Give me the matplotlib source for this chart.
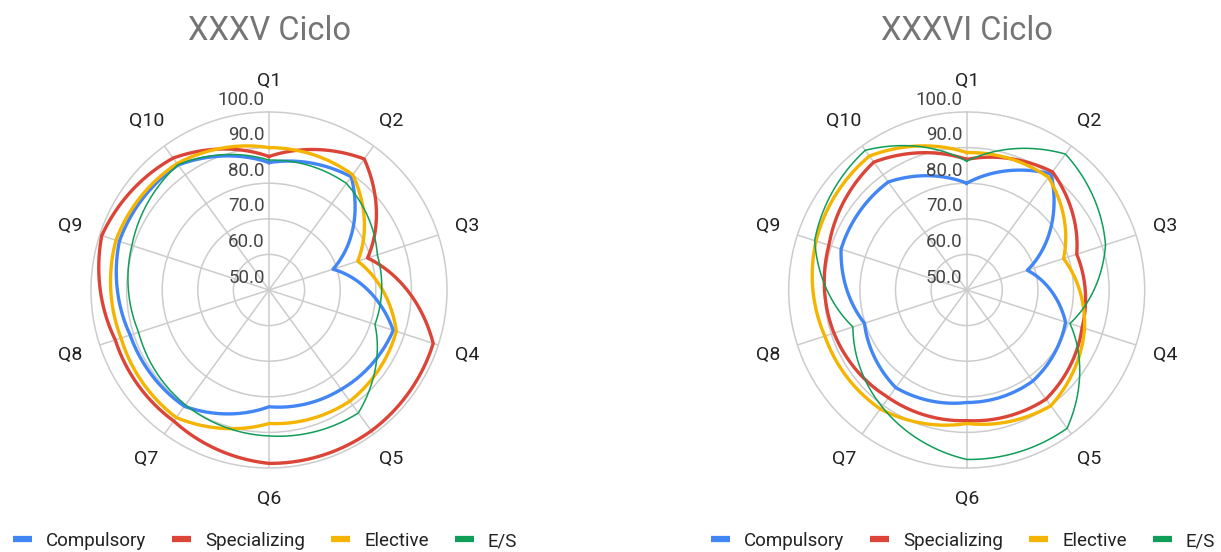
import numpy as np
import matplotlib
matplotlib.use("Agg")
import matplotlib.pyplot as plt
from matplotlib.lines import Line2D

plt.rcParams["font.family"] = ["Roboto", "DejaVu Sans"]

questions = ["Q1", "Q2", "Q3", "Q4", "Q5", "Q6", "Q7", "Q8", "Q9", "Q10"]
series_names = ["Compulsory", "Specializing", "Elective", "E/S"]
ring_values = [50, 60, 70, 80, 90, 100]

# XXXV Ciclo
xxxv_compulsory = [85.8, 89.3, 68.9, 86.7, 84.5, 82.8, 90.4, 91.0, 94.2, 93.4]
xxxv_specializing = [87.5, 95.5, 79.1, 98.5, 98.9, 98.7, 95.5, 95.4, 99.4, 95.8]
xxxv_elective = [90.0, 90.0, 76.2, 87.6, 88.6, 87.5, 94.3, 93.7, 95.2, 93.9]
xxxv_es = [86.5, 87.0, 82.0, 81.3, 92.7, 91.0, 89.9, 88.5, 90.5, 93.5]

# XXXVI Ciclo
xxxvi_compulsory = [80.0, 90.3, 67.9, 79.2, 81.6, 81.6, 83.9, 80.2, 87.1, 87.5]
xxxvi_specializing = [86.7, 91.0, 82.5, 84.1, 87.9, 86.7, 87.4, 89.2, 90.7, 94.4]
xxxvi_elective = [88.6, 89.1, 78.6, 84.8, 90.2, 87.5, 91.3, 91.9, 94.5, 96.5]
xxxvi_es = [86.2, 97.2, 91.0, 80.5, 98.0, 97.6, 90.5, 83.6, 94.9, 98.5]

colors = ["#4285F4", "#DB4437", "#F4B400", "#0F9D58"]
widths = [2.4, 2.4, 2.4, 1.1]

W, H = 1221, 552
fig = plt.figure(figsize=(W / 100, H / 100), dpi=100)


def radar(cx, cy, rad, title, data):
    ax = fig.add_axes([(cx - rad) / W, (H - cy - rad) / H, 2 * rad / W, 2 * rad / H],
                      projection="polar")
    ax.set_theta_zero_location("N")
    ax.set_theta_direction(-1)
    ax.set_ylim(50, 100)
    angles = np.deg2rad(np.arange(0, 360, 36))
    ax.set_xticks(angles)
    ax.set_xticklabels([])
    ax.set_yticks(ring_values[1:-1])
    ax.set_yticklabels([])
    ax.grid(color="#cccccc", lw=1.1)
    ax.spines["polar"].set_color("#cccccc")
    ax.spines["polar"].set_linewidth(1.1)
    ax.tick_params(length=0)

    th = np.append(angles, angles[0] + 2 * np.pi)
    for vals, c, lw in zip(data, colors, widths):
        v = np.append(vals, vals[0])
        line, = ax.plot(th, v, color=c, lw=lw, solid_joinstyle="round", zorder=3)
        line.get_path()._interpolation_steps = 40

    for a, q in zip(angles, questions):
        ax.text(a, 108.6, q, ha="center", va="center", fontsize=14,
                color="#222222", clip_on=False)
    for rv in ring_values:
        ax.annotate(f"{rv:.1f}", xy=(0, rv), xytext=(-3, 2.5), textcoords="offset points",
                    ha="right", va="bottom", fontsize=13.5, color="#444444", zorder=4)

    fig.text(cx / W, 1 - 31 / H, title, ha="center", va="center", fontsize=23.5,
             color="#757575")


radar(269, 290, 178, "XXXV Ciclo",
      [xxxv_compulsory, xxxv_specializing, xxxv_elective, xxxv_es])
radar(966.7, 290, 178, "XXXVI Ciclo",
      [xxxvi_compulsory, xxxvi_specializing, xxxvi_elective, xxxvi_es])

handles = [Line2D([], [], color=c, lw=4.5, solid_capstyle="butt") for c in colors]
for x0 in (13, 711):
    fig.legend(handles, series_names, loc="center left",
               bbox_to_anchor=(x0 / W, 11 / H), ncol=4, frameon=False,
               fontsize=13.5, handlelength=1.0, handletextpad=0.75,
               columnspacing=1.4, borderpad=0, borderaxespad=0,
               labelcolor="#222222")

fig.savefig("out.png", dpi=100)
